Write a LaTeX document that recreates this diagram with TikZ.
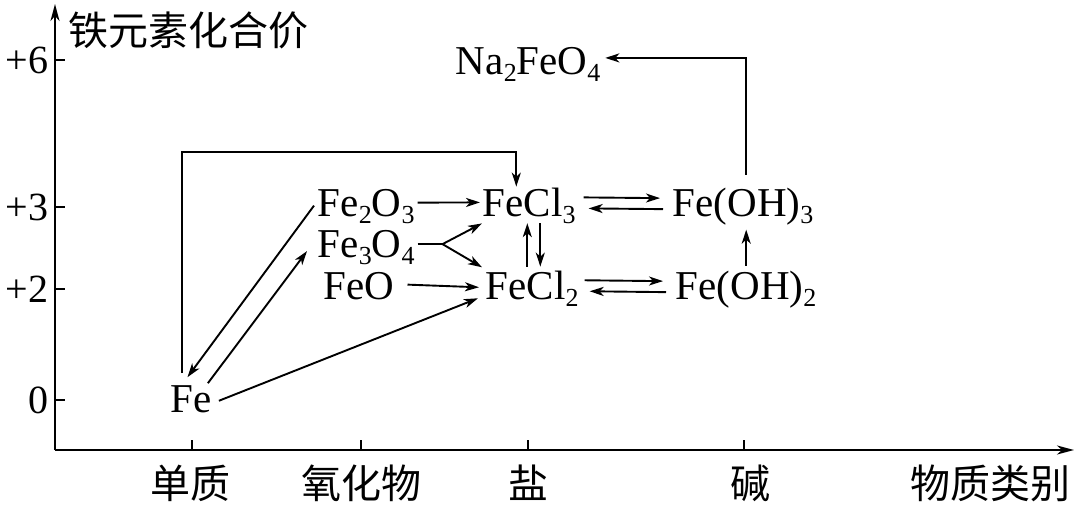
\documentclass[tikz,border=0pt]{standalone}
\usepackage{fontspec}
\setmainfont{Liberation Serif}
\newfontfamily\cjk{Noto Sans CJK SC}
\usetikzlibrary{arrows.meta,calc}
\newcommand\chsub[1]{\raisebox{-7pt}{\fontsize{26}{26}\selectfont #1}}
\newcommand\chsubs[1]{\raisebox{-7pt}[\height][0pt]{\fontsize{26}{26}\selectfont #1}}
\begin{document}
\begin{tikzpicture}[x=1pt,y=-1pt,line width=1.9pt,
  chem/.style={inner sep=0pt,font=\fontsize{41}{41}\selectfont,anchor=base west},
  tick/.style={inner sep=0pt,font=\fontsize{40}{40}\selectfont,anchor=east},
  cn/.style={inner sep=0pt,font=\cjk\fontsize{40}{40}\selectfont},
  arr/.style={-{Stealth[length=14pt,width=9pt,inset=4pt]},line width=1.9pt},
  axarr/.style={-{Stealth[length=17pt,width=9pt,inset=5pt]},line width=2pt}]
\useasboundingbox (0,0) rectangle (1080,508);
% axes
\coordinate (O) at (55,450);
\coordinate (ytop) at (55,4);
\coordinate (xend) at (1074,450);
\draw[axarr] (O) -- (ytop);
\draw[axarr] (O) -- (xend);
\node[cn,anchor=west] (ylab) at (68,30) {铁元素化合价};
% y ticks
\foreach \yy/\lab/\nm in {60/+6/t6,207/+3/t3,289/+2/t2,400/0/t0}{
  \draw[line width=2pt] (55,\yy) -- (65,\yy);
  \node[tick] (\nm) at (49,\yy) {\lab};
}
% x ticks
\foreach \xx in {192,361,528,744}{\draw[line width=2pt] (\xx,450) -- (\xx,440);}
\node[cn] (c1) at (190,483) {单质};
\node[cn] (c2) at (361,483) {氧化物};
\node[cn] (c3) at (528,483) {盐};
\node[cn] (c4) at (750,483) {碱};
\node[cn] (c5) at (990,483) {物质类别};
% species
\node[chem] (na) at (455,75) {Na\chsub{2}FeO\chsub{4}};
\node[chem] (fe2o3) at (317,216) {Fe\chsubs{2}O\chsubs{3}};
\node[chem] (fecl3) at (482,216) {FeCl\chsub{3}};
\node[chem] (feoh3) at (672,216) {Fe(OH)\chsub{3}};
\node[chem] (fe3o4) at (317,258) {Fe\chsubs{3}O\chsubs{4}};
\node[chem] (feo) at (323,299) {FeO};
\node[chem] (fecl2) at (485,299) {FeCl\chsub{2}};
\node[chem] (feoh2) at (675,299) {Fe(OH)\chsub{2}};
\node[chem] (fe) at (170,412) {Fe};
% connectors
\draw[arr] ($(fe2o3.west)+(-3,3)$) -- ($(fe.north)+(-4,-7)$);
\draw[arr] ($(fe.north east)+(-5,-1)$) -- ($(fe3o4.west)+(-10,6.5)$);
\draw[arr] ($(fe.east)+(6,2)$) -- ($(fecl2.west)+(-7,10)$);
\draw[arr] ($(fe2o3.east)+(2,0)$) -- ($(fecl3.west)+(-2,-3)$);
\coordinate (br) at ($(fe3o4.east)+(27,-0.5)$);
\draw ($(fe3o4.east)+(2,-0.5)$) -- (br);
\draw[arr] (br) -- ($(fecl3.west)+(0,18)$);
\draw[arr] (br) -- ($(fecl2.west)+(-3,-21)$);
\draw[arr] ($(feo.east)+(12,-1)$) -- ($(fecl2.west)+(-6,-1)$);
\draw[arr] ($(fecl2.north)+(-5,-3)$) -- ($(fecl3.south)+(-2,-1)$);
\draw[arr] ($(fecl3.south)+(11,-1)$) -- ($(fecl2.north)+(8,-3)$);
\draw[arr] ($(fecl3.east)+(7,-8)$) -- ($(feoh3.west)+(-12,-8)$);
\draw[arr] ($(feoh3.west)+(-9,3)$) -- ($(fecl3.east)+(12,3)$);
\draw[arr] ($(fecl2.east)+(5,-8)$) -- ($(feoh2.west)+(-12,-8)$);
\draw[arr] ($(feoh2.west)+(-9,3)$) -- ($(fecl2.east)+(10,3)$);
\draw[arr] ($(feoh2.north)+(0,-4)$) -- ($(feoh3.south)+(3,4)$);
\draw[arr] ($(feoh3.north)+(3,-12)$) |- ($(na.east)+(4,-7)$);
\coordinate (bend) at ($(fecl3.north)+(-13,-35)$);
\draw[arr] ($(fe.north west)+(12,-11)$) |- (bend) -- ($(fecl3.north)+(-13,0)$);
\end{tikzpicture}
\end{document}
